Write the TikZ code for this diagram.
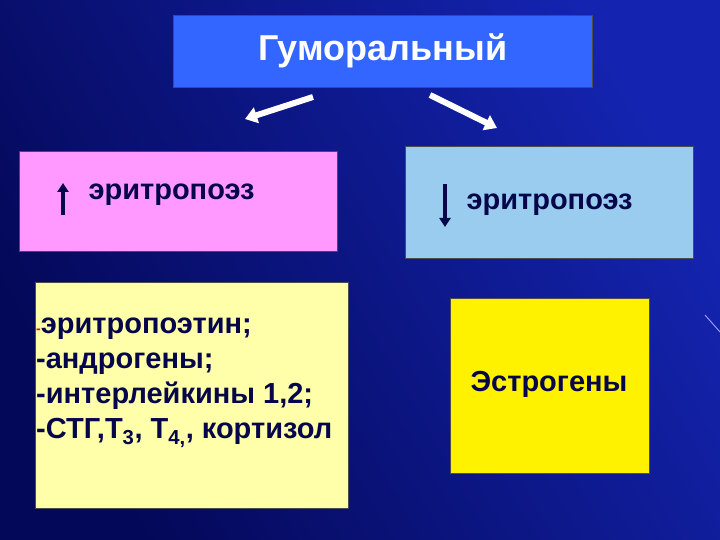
\documentclass[tikz,border=0pt]{standalone}
\usepackage{fontspec}
\setmainfont{Liberation Sans}
\usetikzlibrary{arrows.meta}
\definecolor{navy}{HTML}{06064A}
\definecolor{bgdark}{HTML}{040858}
\definecolor{bglight}{HTML}{1424B0}
\begin{document}
\begin{tikzpicture}[x=1pt,y=-1pt,
  box/.style={draw=black!70,line width=0.6pt,anchor=north west,inner sep=0pt},
  txt/.style={text=navy,font=\bfseries\fontsize{29}{35}\selectfont},
  wa/.style={white,line width=6pt,-{Triangle[length=12pt,width=16pt]}},
  na/.style={navy,line width=3.5pt,-{Triangle[length=9pt,width=11pt]}}]
\useasboundingbox (0,0) rectangle (720,540);
\shade[left color=bgdark,right color=bglight,shading angle=120] (0,0) rectangle (720,540);
\draw[white!60!blue,line width=1pt] (705,315) -- (720,332);
\node[box,minimum width=419pt,minimum height=72pt,fill={rgb,255:red,51;green,102;blue,255}] (top) at (173,15) {};
\node[white,font=\bfseries\fontsize{36}{38}\selectfont] (toptxt) at (383,51) {Гуморальный};
\node[box,fill={rgb,255:red,255;green,153;blue,255},minimum width=318pt,minimum height=100pt] (pink) at (19,151) {};
\node[box,fill={rgb,255:red,153;green,204;blue,238},minimum width=288pt,minimum height=112pt] (lblue) at (405,146) {};
\node[box,fill={rgb,255:red,255;green,255;blue,170},minimum width=313pt,minimum height=226pt] (ly) at (35,282) {};
\node[box,fill=yellow,minimum width=199pt,minimum height=175pt] (yl) at (450,298) {};
\coordinate (a1s) at (313,97); \coordinate (a1e) at (245,119);
\coordinate (a2s) at (430,95); \coordinate (a2e) at (497,128);
\draw[wa] (a1s) -- (a1e);
\draw[wa] (a2s) -- (a2e);
\coordinate (u1) at (63,215); \coordinate (u2) at (63,183);
\coordinate (d1) at (445,184); \coordinate (d2) at (445,227);
\draw[na] (u1) -- (u2);
\draw[na] (d1) -- (d2);
\node[txt,anchor=west] (pt) at (85,195) {эритропоэз};
\node[txt,anchor=west] (bt) at (463,205) {эритропоэз};
\node[txt,anchor=center] (et) at (549,384) {Эстрогены};
\node[txt,anchor=north west,align=left,inner sep=0pt] (list) at (36,318) {{\color{red}\fontsize{14}{14}\selectfont -}эритропоэтин;\\-андрогены;\\-интерлейкины 1,2;\\-СТГ,Т\textsubscript{3}, Т\textsubscript{4,}, кортизол};
\end{tikzpicture}
\end{document}
